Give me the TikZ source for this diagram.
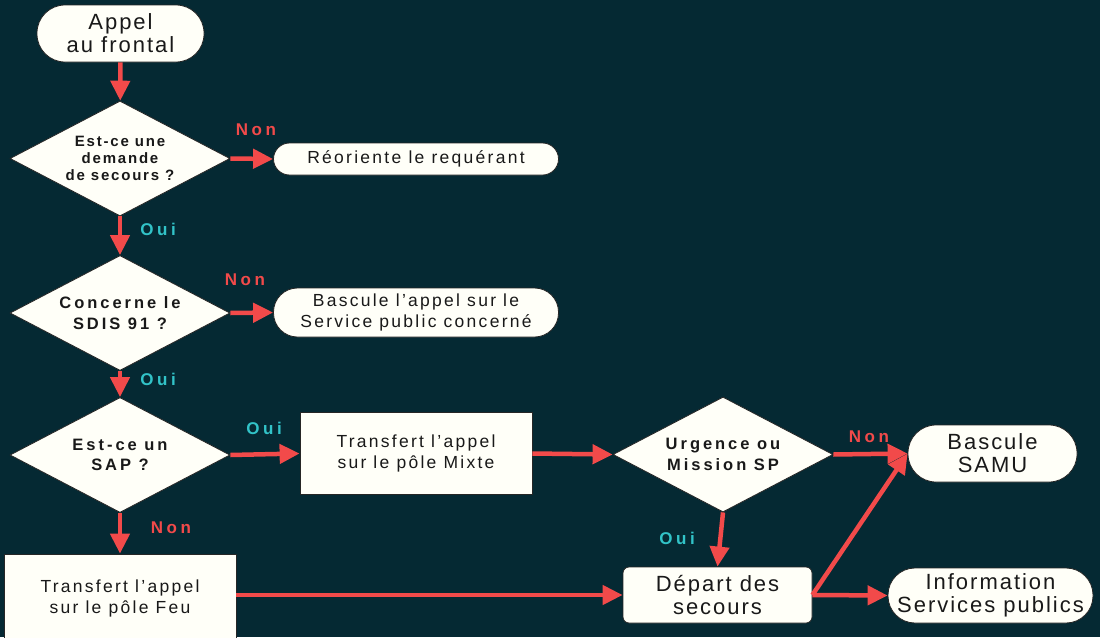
\documentclass[tikz,border=0pt]{standalone}
\usepackage{fontspec}
\setmainfont{Liberation Sans}
\newfontfamily\bigfont[LetterSpace=9]{Liberation Sans}
\newfontfamily\boxfont[LetterSpace=13]{Liberation Sans}
\newfontfamily\qfontA[LetterSpace=12]{Liberation Sans}
\newfontfamily\qfontB[LetterSpace=18]{Liberation Sans}
\newfontfamily\lblfont[LetterSpace=21]{Liberation Sans}
\usetikzlibrary{arrows.meta,shapes.geometric}

\definecolor{bgteal}{RGB}{5,41,51}
\definecolor{flowred}{RGB}{242,74,74}
\definecolor{ouicyan}{RGB}{50,195,200}
\definecolor{paper}{RGB}{255,255,248}

\tikzset{
  shape base/.style={draw=black!85, line width=0.8pt, fill=paper, align=center, inner sep=0pt, text=black!90},
  bigtxt/.style={font=\bigfont\fontsize{22}{23}\selectfont},
  boxtxt/.style={font=\boxfont\fontsize{17.5}{21}\selectfont},
  terminal/.style={shape base, bigtxt, rounded corners=28pt, minimum height=57pt},
  pill/.style={shape base, boxtxt},
  process/.style={shape base, boxtxt},
  decision/.style={shape base, diamond, aspect=2, minimum width=220pt, minimum height=115pt,
    font=\qfontB\bfseries\fontsize{16.5}{20.5}\selectfont},
  flow/.style={draw=flowred, line width=4.5pt, -{Triangle[length=20pt,width=19pt]}},
  lbl/.style={inner sep=0pt, font=\lblfont\bfseries\fontsize{17}{17}\selectfont},
  nonlbl/.style={lbl, text=flowred},
  ouilbl/.style={lbl, text=ouicyan},
}

\begin{document}
\begin{tikzpicture}[x=1pt, y=-1pt]
  % canvas
  \fill[bgteal] (0,0) rectangle (1100,637);
  \useasboundingbox (0,0) rectangle (1100,637);
  \clip (0,0) rectangle (1100,637);

  % left column
  \node[terminal, minimum width=167pt] (appel) at (120.5,33.5) {Appel\\au frontal};
  \node[decision, font=\qfontA\bfseries\fontsize{15}{17}\selectfont] (q1) at (120,158.5) {Est-ce une\\demande\\de secours ?};
  \node[pill, rounded corners=16pt, minimum width=285pt, minimum height=32pt] (reo) at (416,159) {Réoriente le requérant};
  \node[decision] (q2) at (120,313) {Concerne le\\SDIS 91 ?};
  \node[pill, rounded corners=24pt, minimum width=285pt, minimum height=49pt] (bsp) at (416,312.5) {Bascule l’appel sur le\\Service public concerné};
  \node[decision] (q3) at (120,455) {Est-ce un\\SAP ?};
  \node[process, minimum width=232pt, minimum height=82pt] (mixte) at (416,453.5) {Transfert l’appel\\sur le pôle Mixte};
  \node[process, minimum width=232pt, minimum height=88pt] (feu) at (120,598) {Transfert l’appel\\sur le pôle Feu};

  % right part
  \node[decision] (q4) at (723,454.5) {Urgence ou\\Mission SP};
  \node[terminal, minimum width=169pt] (samu) at (992.5,453.5) {Bascule\\SAMU};
  \node[shape base, bigtxt, rounded corners=6pt, minimum width=189pt, minimum height=56pt] (depart) at (717.5,595) {Départ des\\secours};
  \node[terminal, rounded corners=27pt, minimum width=205pt, minimum height=55pt] (info) at (990.5,595.5) {Information\\Services publics};

  % connectors
  \draw[flow] (appel) -- (q1);
  \draw[flow] (q1.east) -- (reo.west);
  \draw[flow] (q1.south) -- (q2.north);
  \draw[flow] (q2.east) -- (bsp.west);
  \draw[flow] (q2.south) -- (q3.north);
  \draw[flow] (q3.east) -- (mixte.west);
  \draw[flow] (q3.south) -- (feu.north);
  \draw[flow] (mixte.east) -- (q4.west);
  \draw[flow] (q4.east) -- (samu.west);
  \draw[flow] (q4.south) -- (depart.north);
  \draw[flow] (feu.east |- depart.west) -- (depart.west);
  \draw[flow] (depart.east) -- (samu.west);
  \draw[flow] (depart.east) -- (info.west);

  % branch labels
  \node[nonlbl] (n1) at (256,130) {Non};
  \node[ouilbl] (o1) at (158,229) {Oui};
  \node[nonlbl] (n2) at (245,280) {Non};
  \node[ouilbl] (o2) at (158,379) {Oui};
  \node[ouilbl] (o3) at (264,428) {Oui};
  \node[nonlbl] (n3) at (171,528) {Non};
  \node[nonlbl] (n4) at (869,437) {Non};
  \node[ouilbl] (o4) at (677,538) {Oui};
\end{tikzpicture}
\end{document}
